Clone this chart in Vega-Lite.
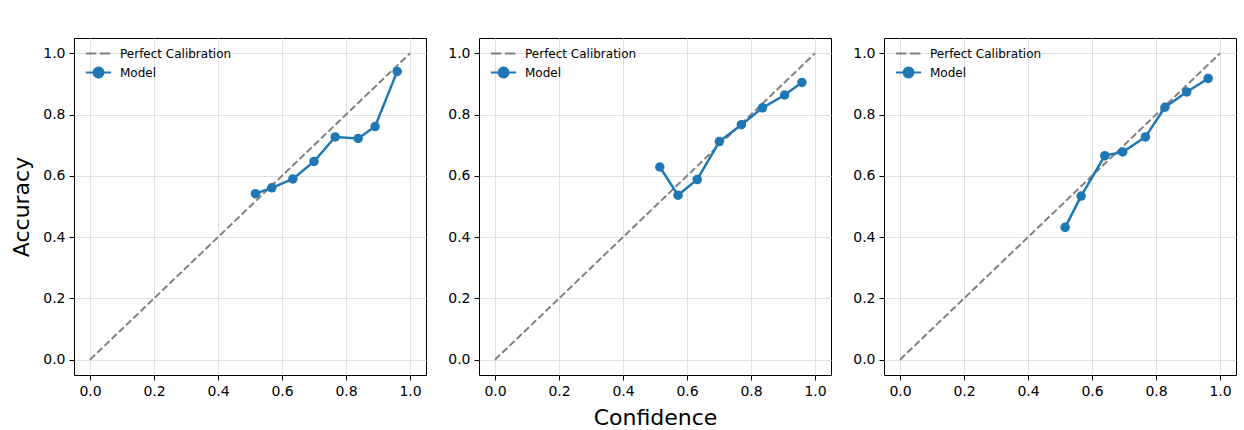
{
  "$schema": "https://vega.github.io/schema/vega-lite/v6.json",
  "autosize": {"type": "pad"},
  "padding": {"left": 10, "top": 37, "right": 0, "bottom": 0},
  "spacing": 20,
  "background": "white",
  "config": {
    "font": "DejaVu Sans",
    "view": {"stroke": "#000000", "strokeWidth": 1},
    "axis": {
      "domain": false,
      "grid": true,
      "gridColor": "#e0e0e0",
      "gridWidth": 1,
      "tickColor": "#000000",
      "tickSize": 5,
      "tickWidth": 1,
      "labelFont": "DejaVu Sans",
      "labelFontSize": 14,
      "labelColor": "#000000",
      "labelPadding": 4,
      "labelFlush": false,
      "labelOverlap": false,
      "titleFont": "DejaVu Sans",
      "titleFontSize": 22,
      "titleFontWeight": "normal",
      "titleColor": "#000000"
    },
    "axisX": {"labelAngle": 0, "titlePadding": 9},
    "axisY": {"titlePadding": 9},
    "legend": {
      "title": null,
      "orient": "top-left",
      "offset": 8,
      "padding": 0,
      "labelFont": "DejaVu Sans",
      "labelFontSize": 12,
      "labelColor": "#000000",
      "symbolSize": 144,
      "symbolOffset": 9,
      "labelOffset": 14,
      "rowPadding": 3
    }
  },
  "data": {
    "values": [
      {"panel": "all", "series": "Perfect Calibration", "conf": 0, "acc": 0},
      {"panel": "all", "series": "Perfect Calibration", "conf": 1, "acc": 1},
      {"panel": "A", "series": "Model", "conf": 0.517, "acc": 0.542},
      {"panel": "A", "series": "Model", "conf": 0.568, "acc": 0.561},
      {"panel": "A", "series": "Model", "conf": 0.634, "acc": 0.590},
      {"panel": "A", "series": "Model", "conf": 0.700, "acc": 0.647},
      {"panel": "A", "series": "Model", "conf": 0.766, "acc": 0.727},
      {"panel": "A", "series": "Model", "conf": 0.838, "acc": 0.722},
      {"panel": "A", "series": "Model", "conf": 0.891, "acc": 0.761},
      {"panel": "A", "series": "Model", "conf": 0.960, "acc": 0.941},
      {"panel": "B", "series": "Model", "conf": 0.515, "acc": 0.629},
      {"panel": "B", "series": "Model", "conf": 0.572, "acc": 0.537},
      {"panel": "B", "series": "Model", "conf": 0.632, "acc": 0.588},
      {"panel": "B", "series": "Model", "conf": 0.701, "acc": 0.712},
      {"panel": "B", "series": "Model", "conf": 0.770, "acc": 0.767},
      {"panel": "B", "series": "Model", "conf": 0.836, "acc": 0.822},
      {"panel": "B", "series": "Model", "conf": 0.905, "acc": 0.864},
      {"panel": "B", "series": "Model", "conf": 0.959, "acc": 0.905},
      {"panel": "C", "series": "Model", "conf": 0.516, "acc": 0.432},
      {"panel": "C", "series": "Model", "conf": 0.566, "acc": 0.534},
      {"panel": "C", "series": "Model", "conf": 0.640, "acc": 0.666},
      {"panel": "C", "series": "Model", "conf": 0.696, "acc": 0.678},
      {"panel": "C", "series": "Model", "conf": 0.767, "acc": 0.727},
      {"panel": "C", "series": "Model", "conf": 0.828, "acc": 0.824},
      {"panel": "C", "series": "Model", "conf": 0.896, "acc": 0.874},
      {"panel": "C", "series": "Model", "conf": 0.963, "acc": 0.918}
    ]
  },
  "resolve": {"scale": {"color": "independent"}, "legend": {"color": "independent"}},
  "hconcat": [
    {
      "width": 352,
      "height": 337,
      "transform": [{"filter": "datum.panel == 'A' || datum.panel == 'all'"}],
      "encoding": {
        "x": {"field": "conf", "type": "quantitative", "scale": {"domain": [-0.05, 1.05], "nice": false, "zero": false}, "axis": {"values": [0, 0.2, 0.4, 0.6, 0.8, 1], "format": ".1f", "title": null}},
        "y": {"field": "acc", "type": "quantitative", "scale": {"domain": [-0.05, 1.05], "nice": false, "zero": false}, "axis": {"values": [0, 0.2, 0.4, 0.6, 0.8, 1], "format": ".1f", "title": "Accuracy"}},
        "color": {"field": "series", "type": "nominal", "scale": {"domain": ["Perfect Calibration", "Model"], "range": ["#808080", "#1f77b4"]},
          "legend": {"encode": {"symbols": {"update": {
            "shape": {"signal": "datum.value === 'Model' ? 'M-2.1,0H2.1M0.8,0A0.8,0.8,0,1,1,-0.8,0A0.8,0.8,0,1,1,0.8,0' : 'M-2.1,0H2.1'"},
            "strokeDash": {"signal": "datum.value === 'Model' ? [1,0] : [10.5,3.5]"},
            "fill": {"signal": "datum.value === 'Model' ? '#1f77b4' : 'transparent'"},
            "stroke": {"signal": "datum.value === 'Model' ? '#1f77b4' : '#808080'"},
            "strokeWidth": {"value": 2.2},
            "opacity": {"value": 1}
          }}}}}
      },
      "layer": [
        {"transform": [{"filter": "datum.series == 'Perfect Calibration'"}], "mark": {"type": "line", "strokeDash": [7, 3], "strokeWidth": 2}},
        {"transform": [{"filter": "datum.series == 'Model'"}], "mark": {"type": "line", "strokeWidth": 2.5, "point": {"filled": true, "size": 90}}}
      ]
    },
    {
      "width": 352,
      "height": 337,
      "transform": [{"filter": "datum.panel == 'B' || datum.panel == 'all'"}],
      "encoding": {
        "x": {"field": "conf", "type": "quantitative", "scale": {"domain": [-0.05, 1.05], "nice": false, "zero": false}, "axis": {"values": [0, 0.2, 0.4, 0.6, 0.8, 1], "format": ".1f", "title": "Confidence"}},
        "y": {"field": "acc", "type": "quantitative", "scale": {"domain": [-0.05, 1.05], "nice": false, "zero": false}, "axis": {"values": [0, 0.2, 0.4, 0.6, 0.8, 1], "format": ".1f", "title": null}},
        "color": {"field": "series", "type": "nominal", "scale": {"domain": ["Perfect Calibration", "Model"], "range": ["#808080", "#1f77b4"]},
          "legend": {"encode": {"symbols": {"update": {
            "shape": {"signal": "datum.value === 'Model' ? 'M-2.1,0H2.1M0.8,0A0.8,0.8,0,1,1,-0.8,0A0.8,0.8,0,1,1,0.8,0' : 'M-2.1,0H2.1'"},
            "strokeDash": {"signal": "datum.value === 'Model' ? [1,0] : [10.5,3.5]"},
            "fill": {"signal": "datum.value === 'Model' ? '#1f77b4' : 'transparent'"},
            "stroke": {"signal": "datum.value === 'Model' ? '#1f77b4' : '#808080'"},
            "strokeWidth": {"value": 2.2},
            "opacity": {"value": 1}
          }}}}}
      },
      "layer": [
        {"transform": [{"filter": "datum.series == 'Perfect Calibration'"}], "mark": {"type": "line", "strokeDash": [7, 3], "strokeWidth": 2}},
        {"transform": [{"filter": "datum.series == 'Model'"}], "mark": {"type": "line", "strokeWidth": 2.5, "point": {"filled": true, "size": 90}}}
      ]
    },
    {
      "width": 352,
      "height": 337,
      "transform": [{"filter": "datum.panel == 'C' || datum.panel == 'all'"}],
      "encoding": {
        "x": {"field": "conf", "type": "quantitative", "scale": {"domain": [-0.05, 1.05], "nice": false, "zero": false}, "axis": {"values": [0, 0.2, 0.4, 0.6, 0.8, 1], "format": ".1f", "title": null}},
        "y": {"field": "acc", "type": "quantitative", "scale": {"domain": [-0.05, 1.05], "nice": false, "zero": false}, "axis": {"values": [0, 0.2, 0.4, 0.6, 0.8, 1], "format": ".1f", "title": null}},
        "color": {"field": "series", "type": "nominal", "scale": {"domain": ["Perfect Calibration", "Model"], "range": ["#808080", "#1f77b4"]},
          "legend": {"encode": {"symbols": {"update": {
            "shape": {"signal": "datum.value === 'Model' ? 'M-2.1,0H2.1M0.8,0A0.8,0.8,0,1,1,-0.8,0A0.8,0.8,0,1,1,0.8,0' : 'M-2.1,0H2.1'"},
            "strokeDash": {"signal": "datum.value === 'Model' ? [1,0] : [10.5,3.5]"},
            "fill": {"signal": "datum.value === 'Model' ? '#1f77b4' : 'transparent'"},
            "stroke": {"signal": "datum.value === 'Model' ? '#1f77b4' : '#808080'"},
            "strokeWidth": {"value": 2.2},
            "opacity": {"value": 1}
          }}}}}
      },
      "layer": [
        {"transform": [{"filter": "datum.series == 'Perfect Calibration'"}], "mark": {"type": "line", "strokeDash": [7, 3], "strokeWidth": 2}},
        {"transform": [{"filter": "datum.series == 'Model'"}], "mark": {"type": "line", "strokeWidth": 2.5, "point": {"filled": true, "size": 90}}}
      ]
    }
  ]
}
